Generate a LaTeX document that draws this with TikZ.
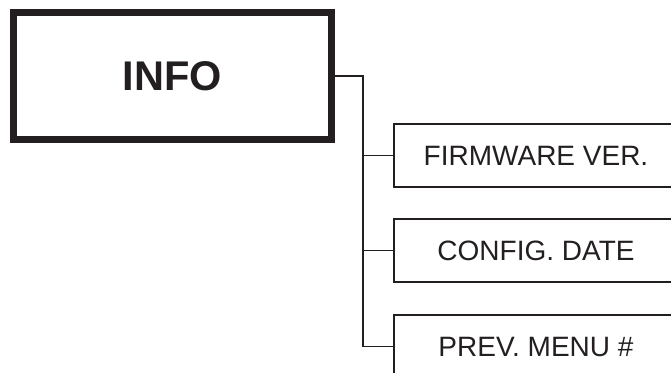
\documentclass[tikz,border=0pt]{standalone}
\usepackage{fontspec}
\setmainfont{Liberation Sans}
\usepackage{xcolor}
\usetikzlibrary{positioning}
\definecolor{ink}{RGB}{35,31,32}

\begin{document}
\begin{tikzpicture}[x=1pt, y=-1pt,
        menu/.style={draw=ink, line width=7pt, text=ink, minimum width=318pt, minimum height=127pt, font=\fontsize{41.5}{45}\selectfont\bfseries},
        item/.style={draw=ink, line width=2.5pt, text=ink, minimum width=284pt, minimum height=63pt, font=\fontsize{28}{32}\selectfont},
        link/.style={draw=ink, line width=1.2pt}]
        % Frame
        \useasboundingbox (0,0) rectangle (671,372);
        \clip (0,0) rectangle (671,372);

        % Menu and items
        \node[menu] (info) at (172.5,76) {INFO};
        \node[item] (fw) at (536,155.5) {FIRMWARE VER.};
        \node[item] (cfg) at (536,250.5) {CONFIG. DATE};
        \node[item] (prev) at (536,346.5) {PREV. MENU \#};

        % Tree lines
        \coordinate (trunk) at (363,0);
        \draw[link] (info.east) -| (trunk |- prev.west) -- (prev.west);
        \draw[link] (trunk |- fw.west) -- (fw.west);
        \draw[link] (trunk |- cfg.west) -- (cfg.west);

    \end{tikzpicture}
\end{document}
